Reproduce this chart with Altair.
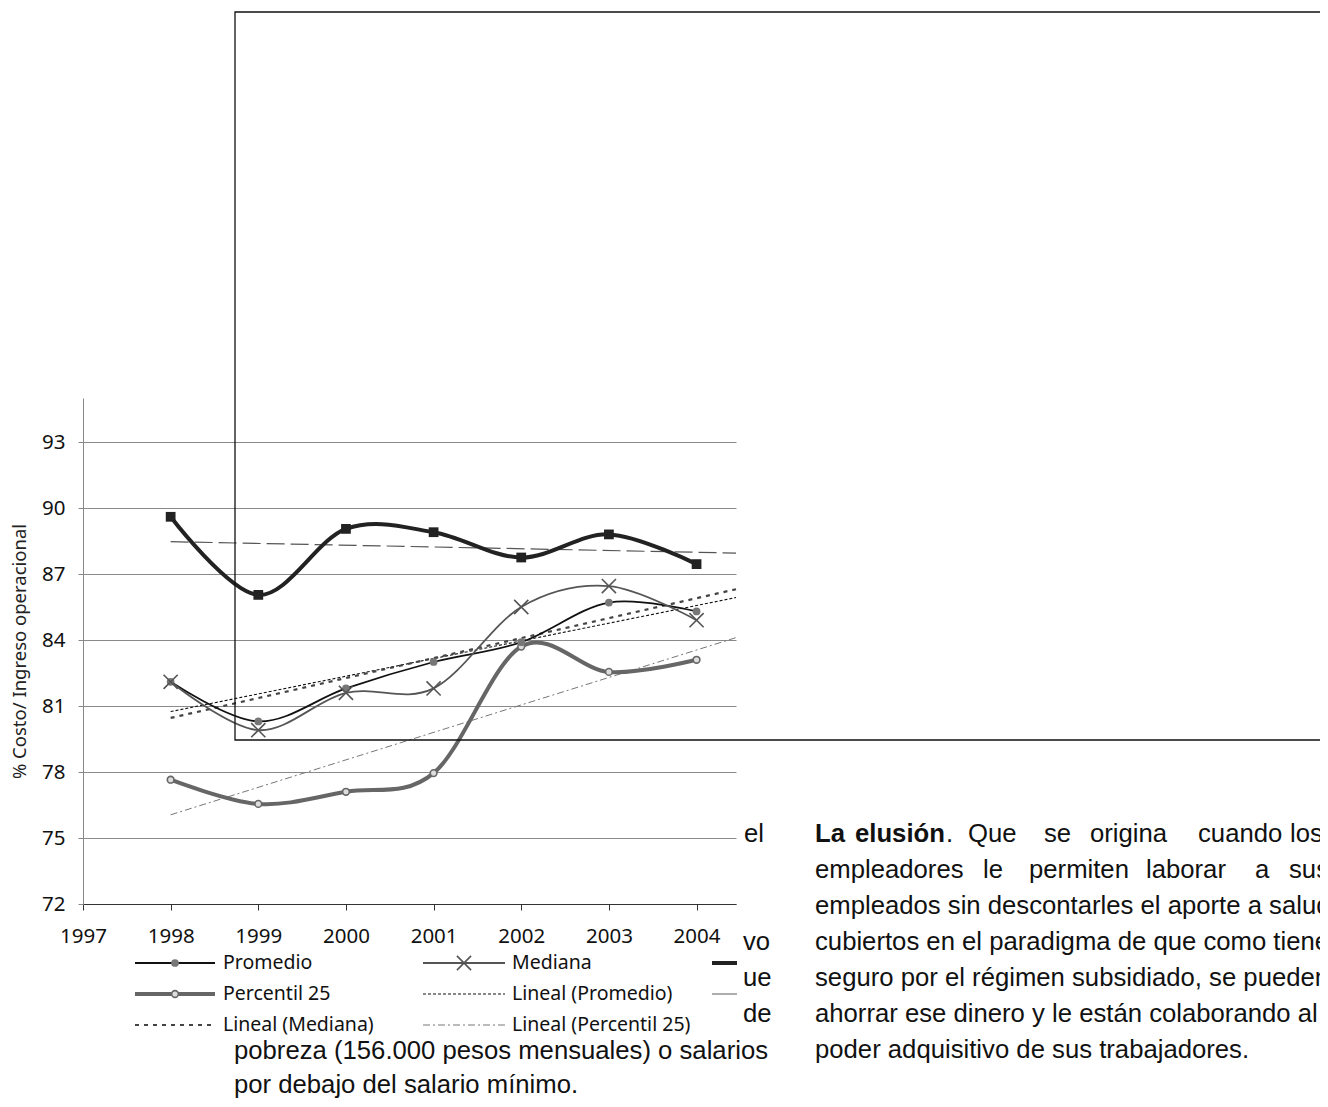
import altair as alt
import pandas as pd

# ---------------- data ----------------
years = [1998, 1999, 2000, 2001, 2002, 2003, 2004]
promedio = [82.1, 80.3, 81.8, 83.0, 83.9, 85.7, 85.3]
mediana = [82.1, 79.9, 81.6, 81.8, 85.5, 86.45, 84.9]
percentil_25 = [77.65, 76.55, 77.1, 77.95, 83.7, 82.55, 83.1]
serie_oscura = [89.6, 86.05, 89.05, 88.9, 87.75, 88.8, 87.45]

x_ticks = [1997, 1998, 1999, 2000, 2001, 2002, 2003, 2004]
y_ticks = [72, 75, 78, 81, 84, 87, 90, 93]
y_title = "% Costo/ Ingreso operacional"
legend_labels = ["Promedio", "Mediana", "Percentil 25", "Lineal (Promedio)",
                 "Lineal (Mediana)", "Lineal (Percentil 25)"]

# page text around the chart (scanned document)
line1_bold_words = ["La", "elusión"]
line1_words = [".", "Que", "se", "origina", "cuando", "los"]
line2_words = ["empleadores", "le", "permiten", "laborar", "a", "sus"]
right_lines = ["empleados sin descontarles el aporte a salud",
               "cubiertos en el paradigma de que como tienen",
               "seguro por el régimen subsidiado, se pueden",
               "ahorrar ese dinero y le están colaborando al",
               "poder adquisitivo de sus trabajadores."]
left_fragments = ["el", "vo", "ue", "de"]
left_lines = ["pobreza (156.000 pesos mensuales) o salarios",
              "por debajo del salario mínimo."]

df = pd.DataFrame({"year": years, "promedio": promedio, "mediana": mediana,
                   "p25": percentil_25, "oscura": serie_oscura})

# ---------------- layout ----------------
W, H = 653, 506
X0, Y0 = 83, 398          # plot origin on the page
PAGE_W, PAGE_H = 1312, 1091
FONT = "Noto Sans"
BODY = "Liberation Sans"
BODY_SIZE = 25.7

xscale = alt.Scale(domain=[1997, 2004.45], nice=False, zero=False)
yscale = alt.Scale(domain=[72, 95], nice=False, zero=False)
X_SHAPE = "M-1,-1L1,1M-1,1L1,-1"

x_axis = alt.Axis(values=x_ticks, format="d", grid=False, title=None,
                  domainColor="#333", tickColor="#333", tickSize=6,
                  labelFont=FONT, labelFontSize=20.5, labelColor="#111",
                  labelPadding=16, labelFlush=False, labelOverlap=False)
y_axis = alt.Axis(values=y_ticks, grid=True, gridColor="#8a8a8a",
                  gridWidth=1, domainColor="#888", tickColor="#888",
                  tickSize=5, labelFont=FONT, labelFontSize=20.5,
                  labelColor="#111", labelPadding=13,
                  title=y_title, titleFont=FONT, titleFontSize=18.5,
                  titleFontWeight="normal", titleColor="#222",
                  titleX=19 - X0, titleY=H / 2, titleAngle=270,
                  titleAlign="center", titleBaseline="middle")


def X(field="year"):
    return alt.X(f"{field}:Q", scale=xscale, axis=x_axis, title=None)


def Y(field):
    return alt.Y(f"{field}:Q", scale=yscale, axis=y_axis, title=y_title)


base = alt.Chart(df)


def series(field, color, width, pt):
    line = base.mark_line(color=color, strokeWidth=width,
                          interpolate="cardinal").encode(x=X(), y=Y(field))
    points = base.mark_point(**pt).encode(x=X(), y=Y(field))
    return line + points


def trend(field, color, width, dash):
    return base.transform_regression(
        "year", field, extent=[1998, 2004.45]
    ).mark_line(color=color, strokeWidth=width, strokeDash=dash).encode(
        x=X(), y=Y(field))


pt_prom = dict(shape="circle", filled=True, color="#777", size=60, opacity=1)
pt_med = dict(shape=X_SHAPE, filled=False, color="#555", size=200,
              strokeWidth=1.6, opacity=1)
pt_p25 = dict(shape="circle", filled=True, fill="#dddddd", stroke="#666",
              strokeWidth=1.6, size=45, opacity=1)
pt_osc = dict(shape="square", filled=True, color="#222", size=95, opacity=1)

layers = [
    trend("oscura", "#555", 1.2, [18, 6]),
    trend("promedio", "#111", 1.1, [3, 2]),
    trend("mediana", "#444", 2.2, [4, 5]),
    trend("p25", "#777", 1.0, [7, 3, 2, 3]),
    series("p25", "#666", 4, pt_p25),
    series("promedio", "#111", 1.8, pt_prom),
    series("mediana", "#555", 1.8, pt_med),
    series("oscura", "#222", 4, pt_osc),
]

# --------------- frame from the scanned page ---------------
one = pd.DataFrame({"k": [0]})
frame = alt.Chart(one).mark_rect(fillOpacity=0, stroke="#111",
                                 strokeWidth=1.3).encode(
    x=alt.value(235 - X0), x2=alt.value(1345 - X0),
    y=alt.value(12 - Y0), y2=alt.value(740 - Y0))
layers.append(frame)

# --------------- manual legend ---------------
leg_rows = [963, 994, 1025]
c1 = (135, 215, 223)   # symbol start, end, text x
c2 = (423, 505, 512)
c3 = (712, 737)


def leg_line(x1, x2, yy, color, width, dash=None):
    kw = dict(color=color, strokeWidth=width)
    if dash:
        kw["strokeDash"] = dash
    return alt.Chart(one).mark_rule(**kw).encode(
        x=alt.value(x1 - X0), x2=alt.value(x2 - X0), y=alt.value(yy - Y0))


def leg_pt(xx, yy, pt):
    return alt.Chart(one).mark_point(**pt).encode(
        x=alt.value(xx - X0), y=alt.value(yy - Y0))


layers += [
    leg_line(c1[0], c1[1], leg_rows[0], "#111", 1.8),
    leg_pt((c1[0] + c1[1]) / 2, leg_rows[0], pt_prom),
    leg_line(c2[0], c2[1], leg_rows[0], "#555", 1.8),
    leg_pt((c2[0] + c2[1]) / 2, leg_rows[0], pt_med),
    leg_line(c3[0], c3[1], leg_rows[0], "#222", 4),
    leg_line(c1[0], c1[1], leg_rows[1], "#666", 4),
    leg_pt((c1[0] + c1[1]) / 2, leg_rows[1], pt_p25),
    leg_line(c2[0], c2[1], leg_rows[1], "#111", 1.1, [3, 2]),
    leg_line(c3[0], c3[1], leg_rows[1], "#777", 1.2),
    leg_line(c1[0], c1[1], leg_rows[2], "#444", 2.2, [4, 5]),
    leg_line(c2[0], c2[1], leg_rows[2], "#777", 1.0, [7, 3, 2, 3]),
]

leg_text = pd.DataFrame({
    "t": legend_labels,
    "px": [c1[2], c2[2], c1[2], c2[2], c1[2], c2[2]],
    "py": [leg_rows[0], leg_rows[0], leg_rows[1], leg_rows[1], leg_rows[2], leg_rows[2]],
})
leg_text["px"] -= X0
leg_text["py"] -= Y0
layers.append(alt.Chart(leg_text).mark_text(
    align="left", baseline="middle", font=FONT, fontSize=19.5, color="#111"
).encode(x=alt.X("px:Q", scale=None, axis=None),
         y=alt.Y("py:Q", scale=None, axis=None), text="t:N"))


# --------------- page text ---------------
def text_layer(texts, xs, ys, weight="normal", size=BODY_SIZE):
    d = pd.DataFrame({"t": texts, "px": [v - X0 for v in xs],
                      "py": [v - Y0 for v in ys]})
    return alt.Chart(d).mark_text(
        align="left", baseline="alphabetic", font=BODY, fontSize=size,
        fontWeight=weight, color="#111"
    ).encode(x=alt.X("px:Q", scale=None, axis=None),
             y=alt.Y("py:Q", scale=None, axis=None), text="t:N")


right_x = 815
line_y = [842, 878, 914, 950, 986, 1022, 1058]
layers.append(text_layer(line1_bold_words, [815, 855], [line_y[0]] * 2, "bold"))
layers.append(text_layer(line1_words, [946, 968, 1044, 1090, 1198, 1290],
                         [line_y[0]] * len(line1_words)))
layers.append(text_layer(line2_words, [815, 983, 1029, 1146, 1255, 1289],
                         [line_y[1]] * len(line2_words)))
layers.append(text_layer(right_lines, [right_x] * 5, line_y[2:]))
layers.append(text_layer(left_fragments, [744, 743, 743, 743],
                         [842, 950, 986, 1022]))
layers.append(text_layer(left_lines, [234, 234], [1059, 1093]))

chart = alt.layer(*layers).properties(
    width=W, height=H, background="white",
    autosize=alt.AutoSizeParams(type="none"),
    padding={"left": X0 - 8, "top": Y0 - 8,
             "right": PAGE_W - (X0 - 8) - W,
             "bottom": PAGE_H - (Y0 - 8) - H},
).configure_view(stroke=None)

chart.save("out.html", embed_options={"renderer": "svg", "actions": False})
